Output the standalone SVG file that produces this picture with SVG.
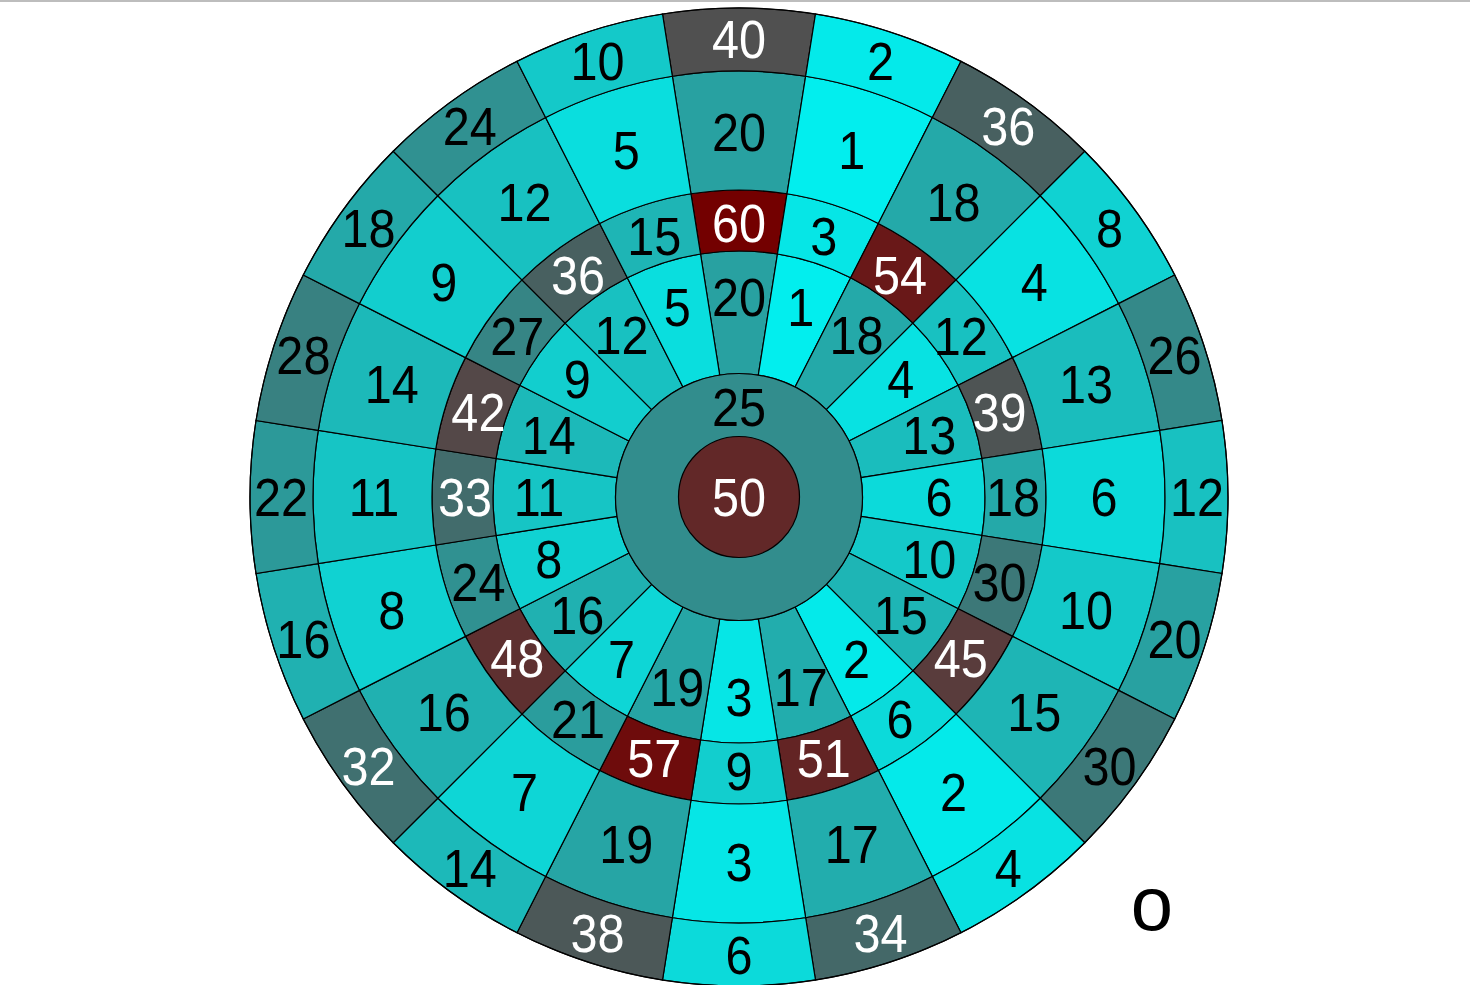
<svg xmlns="http://www.w3.org/2000/svg" xmlns:xlink="http://www.w3.org/1999/xlink" width="1470" height="985" viewBox="0 0 1470 985">
<style>
.seg{stroke:#000;stroke-width:1.2}
text{font-family:"Liberation Sans",Arial,Helvetica,sans-serif;font-size:54px;text-anchor:middle}
.w{fill:#fff}
.b{fill:#000}
</style>
<defs>
<path id="ri" class="seg" d="M719.680 375.021 L700.517 254.029 A246 246 0 0 1 777.483 254.029 L758.320 375.021 A123.5 123.5 0 0 0 719.680 375.021 Z"/>
<path id="rt" class="seg" d="M700.517 254.029 L690.975 193.780 A307 307 0 0 1 787.025 193.780 L777.483 254.029 A246 246 0 0 0 700.517 254.029 Z"/>
<path id="ro" class="seg" d="M690.975 193.780 L672.359 76.245 A426 426 0 0 1 805.641 76.245 L787.025 193.780 A307 307 0 0 0 690.975 193.780 Z"/>
<path id="rd" class="seg" d="M672.359 76.245 L662.504 14.021 A489 489 0 0 1 815.496 14.021 L805.641 76.245 A426 426 0 0 0 672.359 76.245 Z"/>
</defs>
<rect x="0" y="0" width="1470" height="985" fill="#fff"/>
<line x1="0" y1="1" x2="1470" y2="1" stroke="#bdbdbd" stroke-width="2"/>

<g id="board">
<g id="sector-20" transform="rotate(0 739 497)">
<g id="s20-inner"><use href="#ri" fill="#28A1A1"/><text class="b" x="739" y="316" transform="rotate(0 739 297) matrix(0.9 0 0 1 73.9 0)">20</text></g>
<g id="s20-triple"><use href="#rt" fill="#730000"/><text class="w" x="739" y="242" transform="rotate(0 739 223) matrix(0.9 0 0 1 73.9 0)">60</text></g>
<g id="s20-outer"><use href="#ro" fill="#28A1A1"/><text class="b" x="739" y="151" transform="rotate(0 739 132) matrix(0.9 0 0 1 73.9 0)">20</text></g>
<g id="s20-double"><use href="#rd" fill="#505050"/><text class="w" x="739" y="58" transform="rotate(0 739 39) matrix(0.9 0 0 1 73.9 0)">40</text></g>
</g>
<g id="sector-1" transform="rotate(18 739 497)">
<g id="s1-inner"><use href="#ri" fill="#02EEEE"/><text class="b" x="739" y="316" transform="rotate(-18 739 297) matrix(0.9 0 0 1 73.9 0)">1</text></g>
<g id="s1-triple"><use href="#rt" fill="#06E6E6"/><text class="b" x="739" y="242" transform="rotate(-18 739 223) matrix(0.9 0 0 1 73.9 0)">3</text></g>
<g id="s1-outer"><use href="#ro" fill="#02EEEE"/><text class="b" x="739" y="151" transform="rotate(-18 739 132) matrix(0.9 0 0 1 73.9 0)">1</text></g>
<g id="s1-double"><use href="#rd" fill="#04EAEA"/><text class="b" x="739" y="58" transform="rotate(-18 739 39) matrix(0.9 0 0 1 73.9 0)">2</text></g>
</g>
<g id="sector-18" transform="rotate(36 739 497)">
<g id="s18-inner"><use href="#ri" fill="#24A9A9"/><text class="b" x="739" y="316" transform="rotate(-36 739 297) matrix(0.9 0 0 1 73.9 0)">18</text></g>
<g id="s18-triple"><use href="#rt" fill="#691818"/><text class="w" x="739" y="242" transform="rotate(-36 739 223) matrix(0.9 0 0 1 73.9 0)">54</text></g>
<g id="s18-outer"><use href="#ro" fill="#24A9A9"/><text class="b" x="739" y="151" transform="rotate(-36 739 132) matrix(0.9 0 0 1 73.9 0)">18</text></g>
<g id="s18-double"><use href="#rd" fill="#486060"/><text class="w" x="739" y="58" transform="rotate(-36 739 39) matrix(0.9 0 0 1 73.9 0)">36</text></g>
</g>
<g id="sector-4" transform="rotate(54 739 497)">
<g id="s4-inner"><use href="#ri" fill="#08E2E2"/><text class="b" x="739" y="316" transform="rotate(-54 739 297) matrix(0.9 0 0 1 73.9 0)">4</text></g>
<g id="s4-triple"><use href="#rt" fill="#18C1C1"/><text class="b" x="739" y="242" transform="rotate(-54 739 223) matrix(0.9 0 0 1 73.9 0)">12</text></g>
<g id="s4-outer"><use href="#ro" fill="#08E2E2"/><text class="b" x="739" y="151" transform="rotate(-54 739 132) matrix(0.9 0 0 1 73.9 0)">4</text></g>
<g id="s4-double"><use href="#rd" fill="#10D2D2"/><text class="b" x="739" y="58" transform="rotate(-54 739 39) matrix(0.9 0 0 1 73.9 0)">8</text></g>
</g>
<g id="sector-13" transform="rotate(72 739 497)">
<g id="s13-inner"><use href="#ri" fill="#1ABDBD"/><text class="b" x="739" y="316" transform="rotate(-72 739 297) matrix(0.9 0 0 1 73.9 0)">13</text></g>
<g id="s13-triple"><use href="#rt" fill="#4E5454"/><text class="w" x="739" y="242" transform="rotate(-72 739 223) matrix(0.9 0 0 1 73.9 0)">39</text></g>
<g id="s13-outer"><use href="#ro" fill="#1ABDBD"/><text class="b" x="739" y="151" transform="rotate(-72 739 132) matrix(0.9 0 0 1 73.9 0)">13</text></g>
<g id="s13-double"><use href="#rd" fill="#348989"/><text class="b" x="739" y="58" transform="rotate(-72 739 39) matrix(0.9 0 0 1 73.9 0)">26</text></g>
</g>
<g id="sector-6" transform="rotate(90 739 497)">
<g id="s6-inner"><use href="#ri" fill="#0CDADA"/><text class="b" x="739" y="316" transform="rotate(-90 739 297) matrix(0.9 0 0 1 73.9 0)">6</text></g>
<g id="s6-triple"><use href="#rt" fill="#24A9A9"/><text class="b" x="739" y="242" transform="rotate(-90 739 223) matrix(0.9 0 0 1 73.9 0)">18</text></g>
<g id="s6-outer"><use href="#ro" fill="#0CDADA"/><text class="b" x="739" y="151" transform="rotate(-90 739 132) matrix(0.9 0 0 1 73.9 0)">6</text></g>
<g id="s6-double"><use href="#rd" fill="#18C1C1"/><text class="b" x="739" y="58" transform="rotate(-90 739 39) matrix(0.9 0 0 1 73.9 0)">12</text></g>
</g>
<g id="sector-10" transform="rotate(108 739 497)">
<g id="s10-inner"><use href="#ri" fill="#14C9C9"/><text class="b" x="739" y="316" transform="rotate(-108 739 297) matrix(0.9 0 0 1 73.9 0)">10</text></g>
<g id="s10-triple"><use href="#rt" fill="#3C7878"/><text class="b" x="739" y="242" transform="rotate(-108 739 223) matrix(0.9 0 0 1 73.9 0)">30</text></g>
<g id="s10-outer"><use href="#ro" fill="#14C9C9"/><text class="b" x="739" y="151" transform="rotate(-108 739 132) matrix(0.9 0 0 1 73.9 0)">10</text></g>
<g id="s10-double"><use href="#rd" fill="#28A1A1"/><text class="b" x="739" y="58" transform="rotate(-108 739 39) matrix(0.9 0 0 1 73.9 0)">20</text></g>
</g>
<g id="sector-15" transform="rotate(126 739 497)">
<g id="s15-inner"><use href="#ri" fill="#1EB5B5"/><text class="b" x="739" y="316" transform="rotate(-126 739 297) matrix(0.9 0 0 1 73.9 0)">15</text></g>
<g id="s15-triple"><use href="#rt" fill="#593C3C"/><text class="w" x="739" y="242" transform="rotate(-126 739 223) matrix(0.9 0 0 1 73.9 0)">45</text></g>
<g id="s15-outer"><use href="#ro" fill="#1EB5B5"/><text class="b" x="739" y="151" transform="rotate(-126 739 132) matrix(0.9 0 0 1 73.9 0)">15</text></g>
<g id="s15-double"><use href="#rd" fill="#3C7878"/><text class="b" x="739" y="58" transform="rotate(-126 739 39) matrix(0.9 0 0 1 73.9 0)">30</text></g>
</g>
<g id="sector-2" transform="rotate(144 739 497)">
<g id="s2-inner"><use href="#ri" fill="#04EAEA"/><text class="b" x="739" y="316" transform="rotate(-144 739 297) matrix(0.9 0 0 1 73.9 0)">2</text></g>
<g id="s2-triple"><use href="#rt" fill="#0CDADA"/><text class="b" x="739" y="242" transform="rotate(-144 739 223) matrix(0.9 0 0 1 73.9 0)">6</text></g>
<g id="s2-outer"><use href="#ro" fill="#04EAEA"/><text class="b" x="739" y="151" transform="rotate(-144 739 132) matrix(0.9 0 0 1 73.9 0)">2</text></g>
<g id="s2-double"><use href="#rd" fill="#08E2E2"/><text class="b" x="739" y="58" transform="rotate(-144 739 39) matrix(0.9 0 0 1 73.9 0)">4</text></g>
</g>
<g id="sector-17" transform="rotate(162 739 497)">
<g id="s17-inner"><use href="#ri" fill="#22ADAD"/><text class="b" x="739" y="316" transform="rotate(-162 739 297) matrix(0.9 0 0 1 73.9 0)">17</text></g>
<g id="s17-triple"><use href="#rt" fill="#632424"/><text class="w" x="739" y="242" transform="rotate(-162 739 223) matrix(0.9 0 0 1 73.9 0)">51</text></g>
<g id="s17-outer"><use href="#ro" fill="#22ADAD"/><text class="b" x="739" y="151" transform="rotate(-162 739 132) matrix(0.9 0 0 1 73.9 0)">17</text></g>
<g id="s17-double"><use href="#rd" fill="#446868"/><text class="w" x="739" y="58" transform="rotate(-162 739 39) matrix(0.9 0 0 1 73.9 0)">34</text></g>
</g>
<g id="sector-3" transform="rotate(180 739 497)">
<g id="s3-inner"><use href="#ri" fill="#06E6E6"/><text class="b" x="739" y="316" transform="rotate(-180 739 297) matrix(0.9 0 0 1 73.9 0)">3</text></g>
<g id="s3-triple"><use href="#rt" fill="#12CECE"/><text class="b" x="739" y="242" transform="rotate(-180 739 223) matrix(0.9 0 0 1 73.9 0)">9</text></g>
<g id="s3-outer"><use href="#ro" fill="#06E6E6"/><text class="b" x="739" y="151" transform="rotate(-180 739 132) matrix(0.9 0 0 1 73.9 0)">3</text></g>
<g id="s3-double"><use href="#rd" fill="#0CDADA"/><text class="b" x="739" y="58" transform="rotate(-180 739 39) matrix(0.9 0 0 1 73.9 0)">6</text></g>
</g>
<g id="sector-19" transform="rotate(198 739 497)">
<g id="s19-inner"><use href="#ri" fill="#26A5A5"/><text class="b" x="739" y="316" transform="rotate(-198 739 297) matrix(0.9 0 0 1 73.9 0)">19</text></g>
<g id="s19-triple"><use href="#rt" fill="#6E0C0C"/><text class="w" x="739" y="242" transform="rotate(-198 739 223) matrix(0.9 0 0 1 73.9 0)">57</text></g>
<g id="s19-outer"><use href="#ro" fill="#26A5A5"/><text class="b" x="739" y="151" transform="rotate(-198 739 132) matrix(0.9 0 0 1 73.9 0)">19</text></g>
<g id="s19-double"><use href="#rd" fill="#4C5858"/><text class="w" x="739" y="58" transform="rotate(-198 739 39) matrix(0.9 0 0 1 73.9 0)">38</text></g>
</g>
<g id="sector-7" transform="rotate(216 739 497)">
<g id="s7-inner"><use href="#ri" fill="#0ED6D6"/><text class="b" x="739" y="316" transform="rotate(-216 739 297) matrix(0.9 0 0 1 73.9 0)">7</text></g>
<g id="s7-triple"><use href="#rt" fill="#2A9D9D"/><text class="b" x="739" y="242" transform="rotate(-216 739 223) matrix(0.9 0 0 1 73.9 0)">21</text></g>
<g id="s7-outer"><use href="#ro" fill="#0ED6D6"/><text class="b" x="739" y="151" transform="rotate(-216 739 132) matrix(0.9 0 0 1 73.9 0)">7</text></g>
<g id="s7-double"><use href="#rd" fill="#1CB9B9"/><text class="b" x="739" y="58" transform="rotate(-216 739 39) matrix(0.9 0 0 1 73.9 0)">14</text></g>
</g>
<g id="sector-16" transform="rotate(234 739 497)">
<g id="s16-inner"><use href="#ri" fill="#20B1B1"/><text class="b" x="739" y="316" transform="rotate(-234 739 297) matrix(0.9 0 0 1 73.9 0)">16</text></g>
<g id="s16-triple"><use href="#rt" fill="#5E3030"/><text class="w" x="739" y="242" transform="rotate(-234 739 223) matrix(0.9 0 0 1 73.9 0)">48</text></g>
<g id="s16-outer"><use href="#ro" fill="#20B1B1"/><text class="b" x="739" y="151" transform="rotate(-234 739 132) matrix(0.9 0 0 1 73.9 0)">16</text></g>
<g id="s16-double"><use href="#rd" fill="#407070"/><text class="w" x="739" y="58" transform="rotate(-234 739 39) matrix(0.9 0 0 1 73.9 0)">32</text></g>
</g>
<g id="sector-8" transform="rotate(252 739 497)">
<g id="s8-inner"><use href="#ri" fill="#10D2D2"/><text class="b" x="739" y="316" transform="rotate(-252 739 297) matrix(0.9 0 0 1 73.9 0)">8</text></g>
<g id="s8-triple"><use href="#rt" fill="#309191"/><text class="b" x="739" y="242" transform="rotate(-252 739 223) matrix(0.9 0 0 1 73.9 0)">24</text></g>
<g id="s8-outer"><use href="#ro" fill="#10D2D2"/><text class="b" x="739" y="151" transform="rotate(-252 739 132) matrix(0.9 0 0 1 73.9 0)">8</text></g>
<g id="s8-double"><use href="#rd" fill="#20B1B1"/><text class="b" x="739" y="58" transform="rotate(-252 739 39) matrix(0.9 0 0 1 73.9 0)">16</text></g>
</g>
<g id="sector-11" transform="rotate(270 739 497)">
<g id="s11-inner"><use href="#ri" fill="#16C5C5"/><text class="b" x="739" y="316" transform="rotate(-270 739 297) matrix(0.9 0 0 1 73.9 0)">11</text></g>
<g id="s11-triple"><use href="#rt" fill="#426C6C"/><text class="w" x="739" y="242" transform="rotate(-270 739 223) matrix(0.9 0 0 1 73.9 0)">33</text></g>
<g id="s11-outer"><use href="#ro" fill="#16C5C5"/><text class="b" x="739" y="151" transform="rotate(-270 739 132) matrix(0.9 0 0 1 73.9 0)">11</text></g>
<g id="s11-double"><use href="#rd" fill="#2C9999"/><text class="b" x="739" y="58" transform="rotate(-270 739 39) matrix(0.9 0 0 1 73.9 0)">22</text></g>
</g>
<g id="sector-14" transform="rotate(288 739 497)">
<g id="s14-inner"><use href="#ri" fill="#1CB9B9"/><text class="b" x="739" y="316" transform="rotate(-288 739 297) matrix(0.9 0 0 1 73.9 0)">14</text></g>
<g id="s14-triple"><use href="#rt" fill="#544848"/><text class="w" x="739" y="242" transform="rotate(-288 739 223) matrix(0.9 0 0 1 73.9 0)">42</text></g>
<g id="s14-outer"><use href="#ro" fill="#1CB9B9"/><text class="b" x="739" y="151" transform="rotate(-288 739 132) matrix(0.9 0 0 1 73.9 0)">14</text></g>
<g id="s14-double"><use href="#rd" fill="#388181"/><text class="b" x="739" y="58" transform="rotate(-288 739 39) matrix(0.9 0 0 1 73.9 0)">28</text></g>
</g>
<g id="sector-9" transform="rotate(306 739 497)">
<g id="s9-inner"><use href="#ri" fill="#12CECE"/><text class="b" x="739" y="316" transform="rotate(-306 739 297) matrix(0.9 0 0 1 73.9 0)">9</text></g>
<g id="s9-triple"><use href="#rt" fill="#368585"/><text class="b" x="739" y="242" transform="rotate(-306 739 223) matrix(0.9 0 0 1 73.9 0)">27</text></g>
<g id="s9-outer"><use href="#ro" fill="#12CECE"/><text class="b" x="739" y="151" transform="rotate(-306 739 132) matrix(0.9 0 0 1 73.9 0)">9</text></g>
<g id="s9-double"><use href="#rd" fill="#24A9A9"/><text class="b" x="739" y="58" transform="rotate(-306 739 39) matrix(0.9 0 0 1 73.9 0)">18</text></g>
</g>
<g id="sector-12" transform="rotate(324 739 497)">
<g id="s12-inner"><use href="#ri" fill="#18C1C1"/><text class="b" x="739" y="316" transform="rotate(-324 739 297) matrix(0.9 0 0 1 73.9 0)">12</text></g>
<g id="s12-triple"><use href="#rt" fill="#486060"/><text class="w" x="739" y="242" transform="rotate(-324 739 223) matrix(0.9 0 0 1 73.9 0)">36</text></g>
<g id="s12-outer"><use href="#ro" fill="#18C1C1"/><text class="b" x="739" y="151" transform="rotate(-324 739 132) matrix(0.9 0 0 1 73.9 0)">12</text></g>
<g id="s12-double"><use href="#rd" fill="#309191"/><text class="b" x="739" y="58" transform="rotate(-324 739 39) matrix(0.9 0 0 1 73.9 0)">24</text></g>
</g>
<g id="sector-5" transform="rotate(342 739 497)">
<g id="s5-inner"><use href="#ri" fill="#0ADEDE"/><text class="b" x="739" y="316" transform="rotate(-342 739 297) matrix(0.9 0 0 1 73.9 0)">5</text></g>
<g id="s5-triple"><use href="#rt" fill="#1EB5B5"/><text class="b" x="739" y="242" transform="rotate(-342 739 223) matrix(0.9 0 0 1 73.9 0)">15</text></g>
<g id="s5-outer"><use href="#ro" fill="#0ADEDE"/><text class="b" x="739" y="151" transform="rotate(-342 739 132) matrix(0.9 0 0 1 73.9 0)">5</text></g>
<g id="s5-double"><use href="#rd" fill="#14C9C9"/><text class="b" x="739" y="58" transform="rotate(-342 739 39) matrix(0.9 0 0 1 73.9 0)">10</text></g>
</g>

<g id="outer-bull"><circle class="seg" cx="739" cy="497" r="123.5" fill="#328D8D"/><text class="b" x="739" y="426.5" transform="matrix(0.9 0 0 1 73.9 0)">25</text></g>
<g id="bull"><circle class="seg" cx="739" cy="497" r="60.5" fill="#622828"/><text class="w" x="739" y="516" transform="matrix(0.9 0 0 1 73.9 0)">50</text></g>
<circle cx="739" cy="497" r="489" fill="none" stroke="#000" stroke-width="1.2"/>
</g>

<g id="connectors"></g>

<text id="corner-label" class="b" x="1152" y="930" style="font-size:76px">o</text>
</svg>
